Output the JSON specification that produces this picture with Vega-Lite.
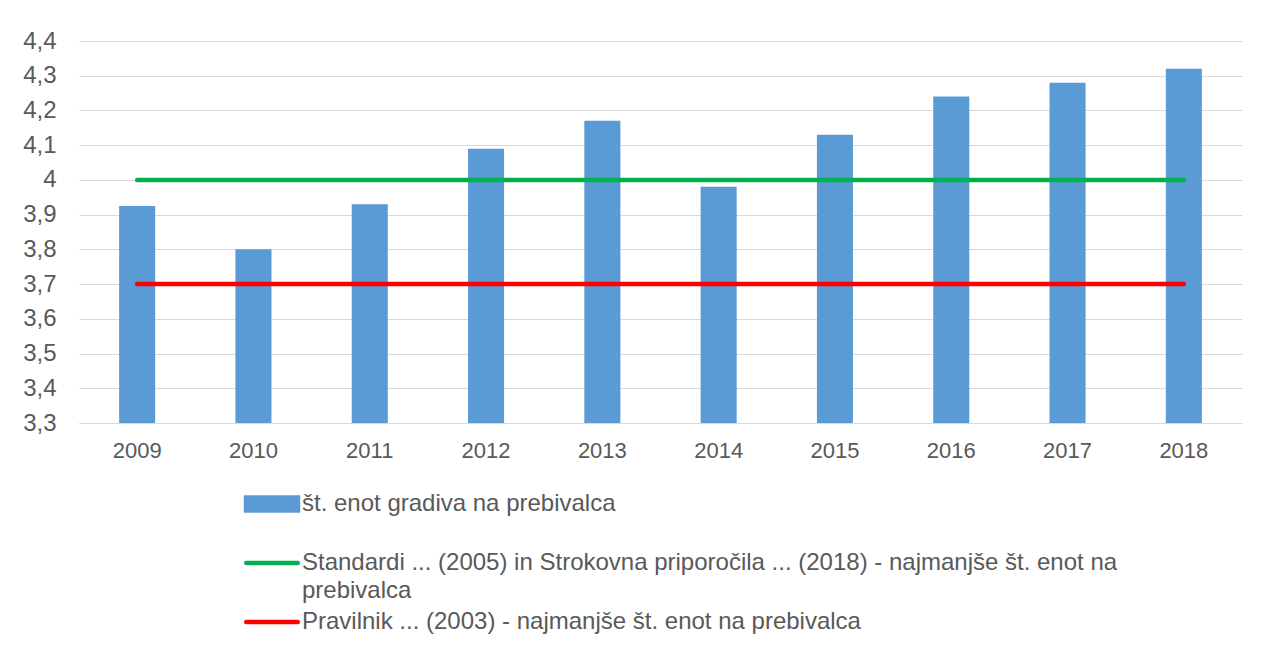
{
  "$schema": "https://vega.github.io/schema/vega-lite/v6.json",
  "width": 1163,
  "height": 382,
  "autosize": {"type": "none"},
  "padding": {"left": 79, "top": 41, "right": 20, "bottom": 236},
  "background": "white",
  "config": {"view": {"stroke": null}, "font": "Liberation Sans"},
  "encoding": {
    "x": {
      "field": "year",
      "type": "ordinal",
      "scale": {"paddingInner": 0.69, "paddingOuter": 0.345},
      "axis": {
        "title": null,
        "labelAngle": 0,
        "ticks": false,
        "domainColor": "#D9D9D9",
        "labelFont": "Liberation Sans",
        "labelFontSize": 22,
        "labelColor": "#595959",
        "labelPadding": 17
      }
    },
    "y": {
      "field": "value",
      "type": "quantitative",
      "scale": {"domain": [3.3, 4.4], "nice": false, "zero": false},
      "axis": {
        "title": null,
        "values": [3.3, 3.4, 3.5, 3.6, 3.7, 3.8, 3.9, 4.0, 4.1, 4.2, 4.3, 4.4],
        "labelExpr": "format(datum.value, '.1f') === '4.0' ? '4' : replace(format(datum.value, '.1f'), '.', ',')",
        "domain": false,
        "ticks": false,
        "gridColor": "#D9D9D9",
        "gridWidth": 1.2,
        "labelFont": "Liberation Sans",
        "labelFontSize": 24,
        "labelColor": "#595959",
        "labelPadding": 23
      }
    }
  },
  "layer": [
    {
      "data": {
        "values": [
          {"year": "2009", "value": 3.925, "series": "št. enot gradiva na prebivalca"},
          {"year": "2010", "value": 3.80, "series": "št. enot gradiva na prebivalca"},
          {"year": "2011", "value": 3.93, "series": "št. enot gradiva na prebivalca"},
          {"year": "2012", "value": 4.09, "series": "št. enot gradiva na prebivalca"},
          {"year": "2013", "value": 4.17, "series": "št. enot gradiva na prebivalca"},
          {"year": "2014", "value": 3.98, "series": "št. enot gradiva na prebivalca"},
          {"year": "2015", "value": 4.13, "series": "št. enot gradiva na prebivalca"},
          {"year": "2016", "value": 4.24, "series": "št. enot gradiva na prebivalca"},
          {"year": "2017", "value": 4.28, "series": "št. enot gradiva na prebivalca"},
          {"year": "2018", "value": 4.32, "series": "št. enot gradiva na prebivalca"}
        ]
      },
      "mark": {"type": "bar"},
      "encoding": {
        "y2": {"datum": 3.3},
        "color": {
          "field": "series",
          "type": "nominal",
          "scale": {
            "domain": [
              "št. enot gradiva na prebivalca",
              "Standardi ... (2005) in Strokovna priporočila ... (2018) - najmanjše št. enot na prebivalca",
              "Pravilnik ... (2003) - najmanjše št. enot na prebivalca"
            ],
            "range": ["#5B9BD5", "#00B050", "#FF0000"]
          },
          "legend": {
            "title": null,
            "orient": "none",
            "legendX": 181,
            "legendY": 451,
            "direction": "vertical",
            "padding": 0,
            "gridAlign": "all",
            "rowPadding": 7,
            "symbolSize": 196,
            "labelOffset": 18,
            "labelFont": "Liberation Sans",
            "labelFontSize": 24,
            "labelColor": "#595959",
            "labelLimit": 1200,
            "labelExpr": "indexof(datum.label, 'Standardi') === 0 ? ['Standardi ... (2005) in Strokovna priporočila ... (2018) - najmanjše št. enot na', 'prebivalca'] : datum.label",
            "encode": {
              "symbols": {
                "update": {
                  "shape": {"signal": "indexof(datum.value, 'gradiva') >= 0 ? 'M-3.71,-0.93H3.71V0.93H-3.71Z' : 'M-3.68,0H3.68'"},
                  "fill": {"signal": "indexof(datum.value, 'gradiva') >= 0 ? '#5B9BD5' : 'transparent'"},
                  "stroke": {"signal": "indexof(datum.value, 'gradiva') >= 0 ? 'transparent' : (indexof(datum.value, 'Pravilnik') === 0 ? '#FF0000' : '#00B050')"},
                  "strokeWidth": {"value": 4.5},
                  "strokeCap": {"value": "round"},
                  "opacity": {"value": 1}
                }
              },
              "labels": {
                "update": {"lineHeight": {"value": 28}}
              }
            }
          }
        }
      }
    },
    {
      "data": {
        "values": [
          {"year": "2009", "value": 4.0, "series": "Standardi ... (2005) in Strokovna priporočila ... (2018) - najmanjše št. enot na prebivalca"},
          {"year": "2018", "value": 4.0, "series": "Standardi ... (2005) in Strokovna priporočila ... (2018) - najmanjše št. enot na prebivalca"},
          {"year": "2009", "value": 3.7, "series": "Pravilnik ... (2003) - najmanjše št. enot na prebivalca"},
          {"year": "2018", "value": 3.7, "series": "Pravilnik ... (2003) - najmanjše št. enot na prebivalca"}
        ]
      },
      "mark": {"type": "line", "strokeWidth": 4.5, "strokeCap": "round"},
      "encoding": {
        "color": {"field": "series", "type": "nominal"}
      }
    }
  ]
}
